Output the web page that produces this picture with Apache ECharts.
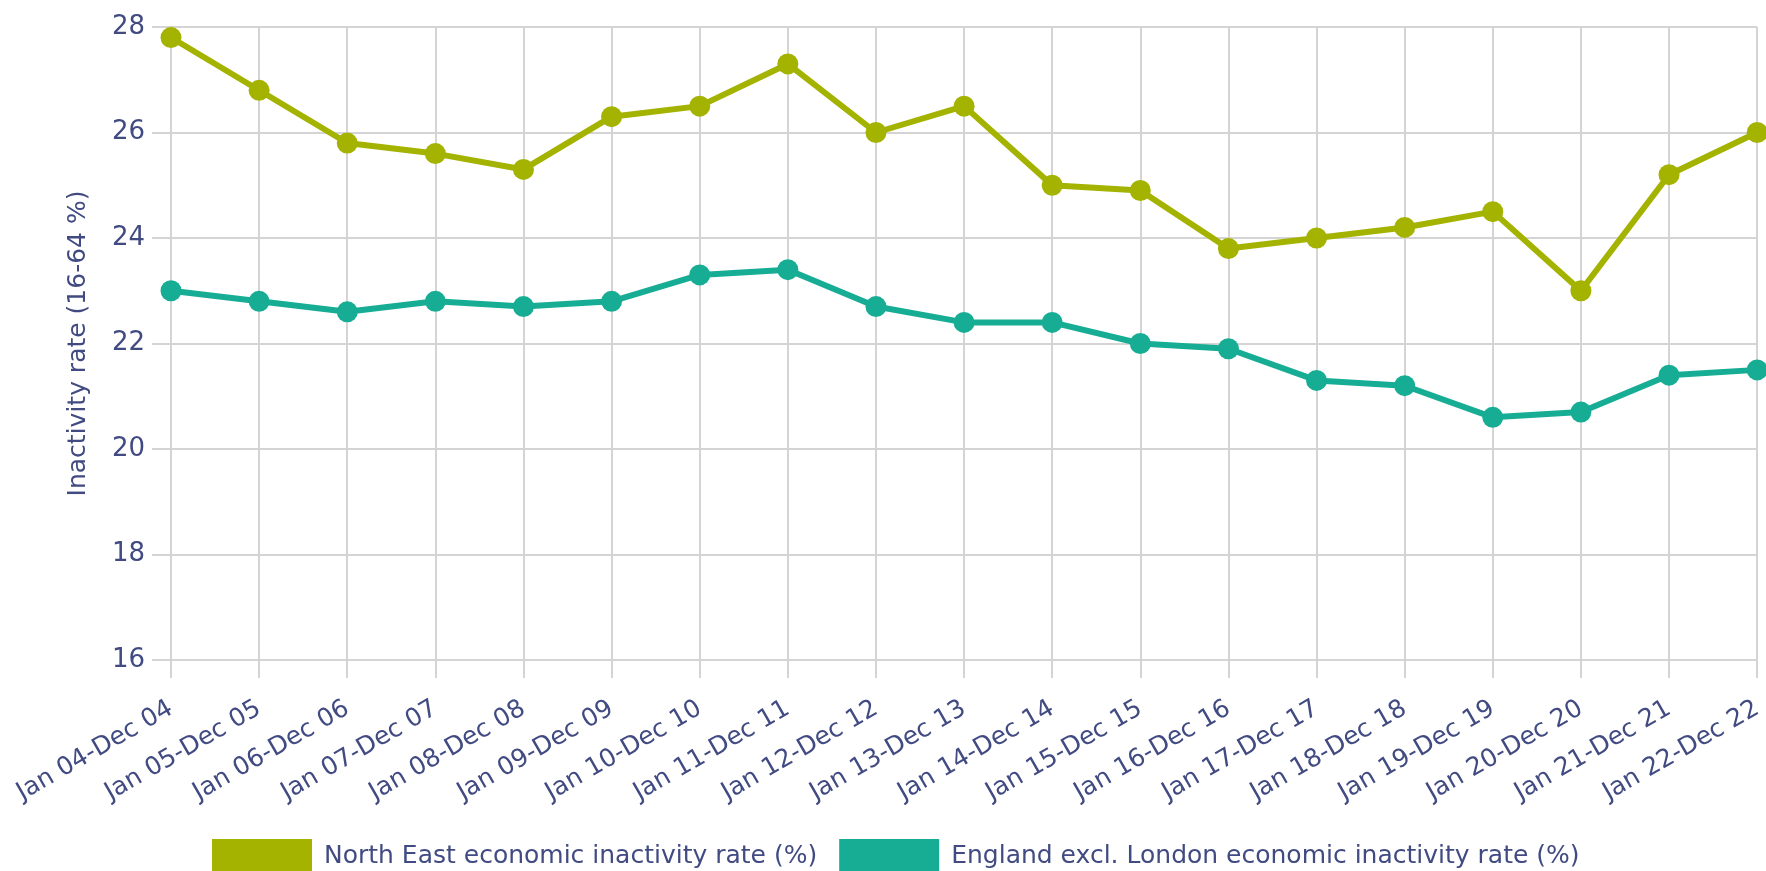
<!DOCTYPE html>
<html>
<head>
<meta charset="utf-8">
<title>Economic inactivity rate</title>
<script src="https://cdn.jsdelivr.net/npm/echarts@6/dist/echarts.min.js"></script>
<style>
  html, body { margin: 0; padding: 0; background: #ffffff; }
  #chart { width: 1766px; height: 871px; }
</style>
</head>
<body>
<div id="chart"></div>
<script>
// Survey periods (calendar years)
const periods = [
  'Jan 04-Dec 04', 'Jan 05-Dec 05', 'Jan 06-Dec 06', 'Jan 07-Dec 07', 'Jan 08-Dec 08',
  'Jan 09-Dec 09', 'Jan 10-Dec 10', 'Jan 11-Dec 11', 'Jan 12-Dec 12', 'Jan 13-Dec 13',
  'Jan 14-Dec 14', 'Jan 15-Dec 15', 'Jan 16-Dec 16', 'Jan 17-Dec 17', 'Jan 18-Dec 18',
  'Jan 19-Dec 19', 'Jan 20-Dec 20', 'Jan 21-Dec 21', 'Jan 22-Dec 22'
];

// Economic inactivity rate, 16-64 (%)
const northEast = [
  27.8, 26.8, 25.8, 25.6, 25.3, 26.3, 26.5, 27.3, 26.0, 26.5,
  25.0, 24.9, 23.8, 24.0, 24.2, 24.5, 23.0, 25.2, 26.0
];
const englandExclLondon = [
  23.0, 22.8, 22.6, 22.8, 22.7, 22.8, 23.3, 23.4, 22.7, 22.4,
  22.4, 22.0, 21.9, 21.3, 21.2, 20.6, 20.7, 21.4, 21.5
];

const seriesNames = [
  'North East economic inactivity rate (%)',
  'England excl. London economic inactivity rate (%)'
];
const yAxisTitle = 'Inactivity rate (16-64 %)';

const textColor = '#414b82';
const gridColor = '#d4d4d4';
const fontFamily = '"DejaVu Sans", sans-serif';

const chart = echarts.init(document.getElementById('chart'), null, { renderer: 'canvas' });

const lineSeries = (name, data, color) => ({
  name: name,
  type: 'line',
  data: data,
  symbol: 'circle',
  symbolSize: 21,
  lineStyle: { color: color, width: 6 },
  itemStyle: { color: color },
  emphasis: { disabled: true },
  animation: false
});

chart.setOption({
  backgroundColor: '#ffffff',
  textStyle: { fontFamily: fontFamily },
  grid: { left: 171, right: 5, top: 27, bottom: 211, containLabel: false },
  legend: {
    left: 207,
    top: 834,
    itemWidth: 100,
    itemHeight: 34,
    itemGap: 22,
    icon: 'rect',
    textStyle: { color: textColor, fontSize: 25, fontFamily: fontFamily, padding: [0, 0, 0, 7] },
    data: seriesNames
  },
  xAxis: {
    type: 'category',
    data: periods,
    boundaryGap: false,
    axisLine: { show: false },
    axisTick: { show: true, length: 18, lineStyle: { color: gridColor, width: 2 } },
    splitLine: { show: true, lineStyle: { color: gridColor, width: 2 } },
    axisLabel: {
      interval: 0,
      rotate: 30,
      margin: 47,
      color: textColor,
      fontSize: 25,
      fontFamily: fontFamily
    }
  },
  yAxis: {
    type: 'value',
    min: 16,
    max: 28,
    interval: 2,
    name: yAxisTitle,
    nameLocation: 'middle',
    nameGap: 80,
    nameTextStyle: { color: textColor, fontSize: 25, fontFamily: fontFamily },
    axisLine: { show: false },
    axisTick: { show: true, length: 19, lineStyle: { color: gridColor, width: 2 } },
    splitLine: { show: true, lineStyle: { color: gridColor, width: 2 } },
    axisLabel: { margin: 26, color: textColor, fontSize: 26, fontFamily: fontFamily }
  },
  series: [
    lineSeries(seriesNames[0], northEast, '#a3b300'),
    lineSeries(seriesNames[1], englandExclLondon, '#17ad95')
  ]
});
</script>
</body>
</html>
